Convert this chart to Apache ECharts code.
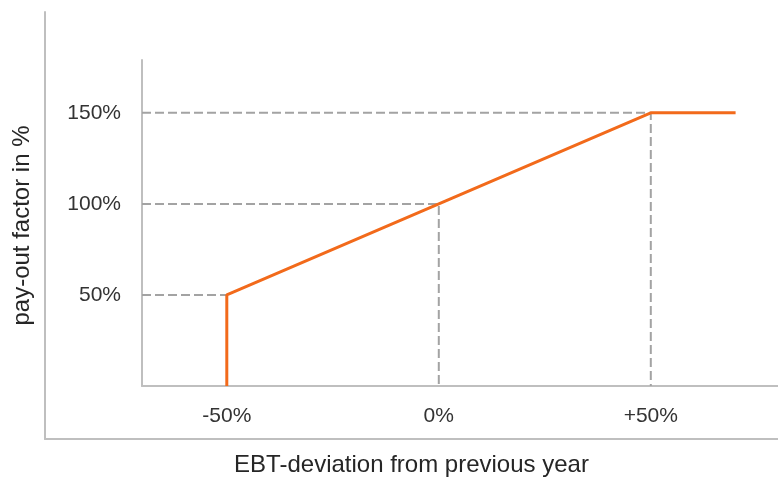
<!DOCTYPE html>
<html>
<head>
<meta charset="utf-8">
<script src="https://cdn.jsdelivr.net/npm/echarts@6/dist/echarts.min.js"></script>
<style>html,body{margin:0;padding:0;background:#fff}#c{width:778px;height:477px}</style>
</head>
<body>
<div id="c"></div>
<script>
// Pay-out curve (x = EBT deviation %, y = pay-out factor %)
const deviation = [-50, -50, 50, 70];
const payout = [0, 50, 150, 150];
// Tick positions / labels
const xTicks = [-50, 0, 50];
const xTickLabels = ['-50%', '0%', '+50%'];
const yTicks = [50, 100, 150];
const yTickLabels = ['50%', '100%', '150%'];
const xName = 'EBT-deviation from previous year';
const yName = 'pay-out factor in %';

const xMin = -70, xMax = 80, yMin = 0, yMax = 179;

const curve = deviation.map((d, i) => [d, payout[i]]);
// guide lines from the y axis to each breakpoint, then down to the x axis
const guidePoints = [[-50, 50], [0, 100], [50, 150]];
const guides = guidePoints.map(p => ({
  type: 'line', xAxisIndex: 1, yAxisIndex: 1, symbol: 'none', silent: true,
  data: p[0] === deviation[0] ? [[xMin, p[1]], p] : [[xMin, p[1]], p, [p[0], yMin]],
  lineStyle: { color: '#a3a3a3', width: 2, type: [9, 4] }, z: 1
}));

const labelMap = (vals, labels) => v => { const i = vals.indexOf(v); return i >= 0 ? labels[i] : ''; };

const chart = echarts.init(document.getElementById('c'));
chart.setOption({
  animation: false,
  grid: [
    { left: 45, top: 12, right: 0, bottom: 38, outerBoundsMode: 'none', containLabel: false },
    { left: 142, top: 60, right: 0, bottom: 91, outerBoundsMode: 'none', containLabel: false }
  ],
  xAxis: [
    { gridIndex: 0, type: 'value', min: 0, max: 1,
      name: xName, nameLocation: 'middle', nameGap: 14,
      nameTextStyle: { fontFamily: 'Liberation Sans', fontSize: 24, color: '#262626' },
      axisLine: { onZero: false, lineStyle: { color: '#bfbfbf', width: 2 } },
      axisTick: { show: false }, axisLabel: { show: false }, splitLine: { show: false } },
    { gridIndex: 1, type: 'value', min: xMin, max: xMax,
      axisLine: { onZero: false, lineStyle: { color: '#bfbfbf', width: 2 } },
      axisTick: { show: false }, splitLine: { show: false },
      axisLabel: { customValues: xTicks, formatter: labelMap(xTicks, xTickLabels), margin: 20,
        fontFamily: 'Liberation Sans', fontSize: 21, color: '#333333' } }
  ],
  yAxis: [
    { gridIndex: 0, type: 'value', min: 0, max: 1,
      name: yName, nameLocation: 'middle', nameGap: 11, nameRotate: 90,
      nameTextStyle: { fontFamily: 'Liberation Sans', fontSize: 24, color: '#262626' },
      axisLine: { show: true, onZero: false, lineStyle: { color: '#bfbfbf', width: 2 } },
      axisTick: { show: false }, axisLabel: { show: false }, splitLine: { show: false } },
    { gridIndex: 1, type: 'value', min: yMin, max: yMax,
      axisLine: { show: true, onZero: false, lineStyle: { color: '#bfbfbf', width: 2 } },
      axisTick: { show: false }, splitLine: { show: false },
      axisLabel: { customValues: yTicks, formatter: labelMap(yTicks, yTickLabels), margin: 21,
        fontFamily: 'Liberation Sans', fontSize: 21, color: '#333333' } }
  ],
  series: guides.concat([{
    type: 'line', xAxisIndex: 1, yAxisIndex: 1, symbol: 'none', data: curve,
    lineStyle: { color: '#f26a1b', width: 3 }, z: 5
  }])
});
</script>
</body>
</html>
